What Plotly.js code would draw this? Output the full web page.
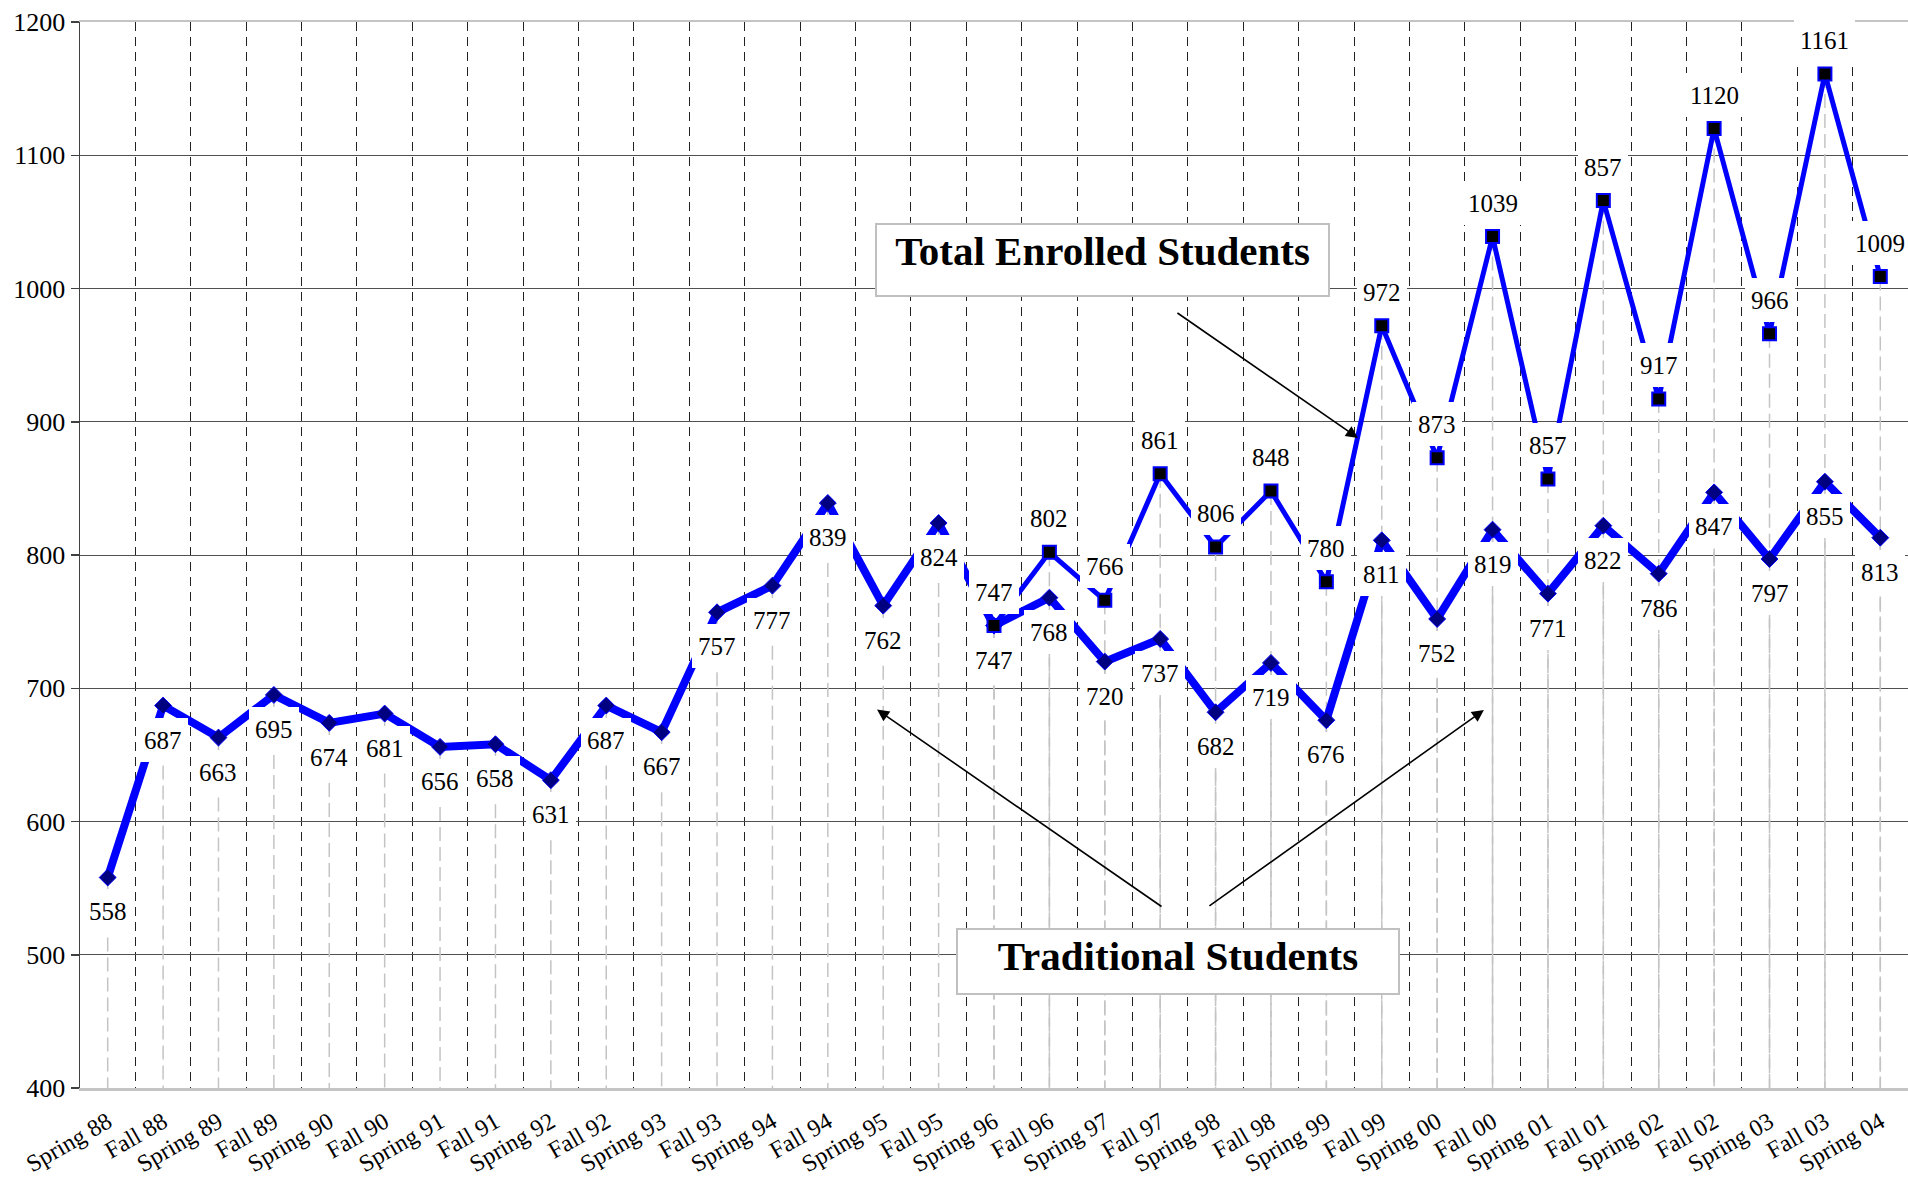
<!DOCTYPE html>
<html>
<head>
<meta charset="utf-8">
<script src="https://cdn.plot.ly/plotly-3.0.1.min.js"></script>
<style>
html,body{margin:0;padding:0;background:#fff;}
#chart{width:1908px;height:1188px;}
</style>
</head>
<body>
<div id="chart"></div>
<script>
// ---- Data ----
const categories = ["Spring 88","Fall 88","Spring 89","Fall 89","Spring 90","Fall 90","Spring 91","Fall 91",
  "Spring 92","Fall 92","Spring 93","Fall 93","Spring 94","Fall 94","Spring 95","Fall 95","Spring 96","Fall 96",
  "Spring 97","Fall 97","Spring 98","Fall 98","Spring 99","Fall 99","Spring 00","Fall 00","Spring 01","Fall 01",
  "Spring 02","Fall 02","Spring 03","Fall 03","Spring 04"];

const traditional = [558,687,663,695,674,681,656,658,631,687,667,757,777,839,762,824,747,768,720,737,682,719,676,
  811,752,819,771,822,786,847,797,855,813];

const total = [null,null,null,null,null,null,null,null,null,null,null,null,null,null,null,null,
  747,802,766,861,806,848,780,972,873,1039,857,1066,917,1120,966,1161,1009];

// data labels exactly as printed on the original chart (Fall 01 is printed "857")
const totalLabels = [null,null,null,null,null,null,null,null,null,null,null,null,null,null,null,null,
  "747","802","766","861","806","848","780","972","873","1039","857","857","917","1120","966","1161","1009"];

const yTickVals = [400,500,600,700,800,900,1000,1100,1200];

// ---- Build traces ----
const SERIF = "Liberation Serif, Times New Roman, serif";
const YMIN = 400, YMAX = 1200;

function dropLines(vals){
  const x = [], y = [];
  vals.forEach((v,i) => {
    if (v == null) return;
    x.push(categories[i], categories[i], categories[i]);
    y.push(v, YMIN, null);
  });
  return {x, y};
}
const dTrad = dropLines(traditional);
const dTot = dropLines(total);

const traces = [
  {x: dTrad.x, y: dTrad.y, type:'scatter', mode:'lines', hoverinfo:'skip', connectgaps:false,
   line:{color:'#c4c4c4', width:1.5, dash:'14px,6px'}},
  {x: dTot.x, y: dTot.y, type:'scatter', mode:'lines', hoverinfo:'skip', connectgaps:false,
   line:{color:'#c4c4c4', width:1.5, dash:'14px,6px'}},
  {x: categories, y: traditional, type:'scatter', mode:'lines+markers', name:'Traditional Students',
   line:{color:'#0000ff', width:8},
   marker:{symbol:'diamond', size:13, color:'#000080', line:{color:'#0000ff', width:1}}},
  {x: categories, y: total, type:'scatter', mode:'lines+markers', name:'Total Enrolled Students',
   connectgaps:false,
   line:{color:'#0000ff', width:5},
   marker:{symbol:'square', size:13, color:'#000000', line:{color:'#0000ff', width:2}}}
];

// ---- Annotations: data labels ----
const labelFont = {family: SERIF, size: 25, color: '#000'};
const annotations = [];
traditional.forEach((v,i) => {
  annotations.push({x: categories[i], y: v, xref:'x', yref:'y', text: String(v), showarrow:false,
    yshift:-34, font: labelFont, bgcolor:'#ffffff', borderpad:6, borderwidth:0, height:32});
});
total.forEach((v,i) => {
  if (v == null) return;
  annotations.push({x: categories[i], y: v, xref:'x', yref:'y', text: totalLabels[i], showarrow:false,
    yshift:34, font: labelFont, bgcolor:'#ffffff', borderpad:6, borderwidth:0, height:32});
});

// ---- Callout boxes and arrows ----
const boxFont = {family: SERIF, size: 41, color: '#000'};
annotations.push({xref:'paper', yref:'paper', x:0.5594, y:0.7767, xanchor:'center', yanchor:'middle',
  text:'<b>Total Enrolled Students</b>', showarrow:false, font: boxFont, bgcolor:'#ffffff',
  bordercolor:'#c0c0c0', borderwidth:2, borderpad:3, width:445, height:64, valign:'top'});
annotations.push({xref:'paper', yref:'paper', x:0.6007, y:0.1187, xanchor:'center', yanchor:'middle',
  text:'<b>Traditional Students</b>', showarrow:false, font: boxFont, bgcolor:'#ffffff',
  bordercolor:'#c0c0c0', borderwidth:2, borderpad:3, width:434, height:57, valign:'top'});

const arrowStyle = {text:'', showarrow:true, arrowhead:2, arrowsize:1.5, arrowwidth:1.6, arrowcolor:'#000',
  xref:'paper', yref:'paper', axref:'pixel', ayref:'pixel'};
annotations.push(Object.assign({}, arrowStyle, {x:0.6991, y:0.6098, ax:-182, ay:-126}));
annotations.push(Object.assign({}, arrowStyle, {x:0.4360, y:0.3550, ax:286, ay:198}));
annotations.push(Object.assign({}, arrowStyle, {x:0.7680, y:0.3546, ax:-276, ay:197}));

const layout = {
  width:1908, height:1188,
  margin:{l:80, r:0, t:22, b:100},
  paper_bgcolor:'#ffffff', plot_bgcolor:'#ffffff',
  showlegend:false,
  font:{family: SERIF, color:'#000'},
  xaxis:{
    type:'category', range:[-0.5, categories.length - 0.5], tickson:'boundaries',
    showgrid:true, gridcolor:'#222222', gridwidth:1, griddash:'9px,6px',
    ticks:'', tickangle:-30, tickfont:{family: SERIF, size:24, color:'#000'},
    ticklabelstandoff:8,
    showline:true, linecolor:'#c4c4c4', linewidth:2.5, mirror:true,
    fixedrange:true
  },
  yaxis:{
    range:[YMIN, YMAX], tickvals: yTickVals, ticktext: yTickVals.map(String),
    showgrid:true, gridcolor:'#505050', gridwidth:1, zeroline:false,
    ticks:'outside', ticklen:8, tickwidth:1.5, tickcolor:'#404040',
    showline:true, linecolor:'#404040', linewidth:1.5,
    tickfont:{family: SERIF, size:26, color:'#000'},
    fixedrange:true
  },
  annotations: annotations
};

Plotly.newPlot('chart', traces, layout, {displayModeBar:false, staticPlot:true});
</script>
</body>
</html>
